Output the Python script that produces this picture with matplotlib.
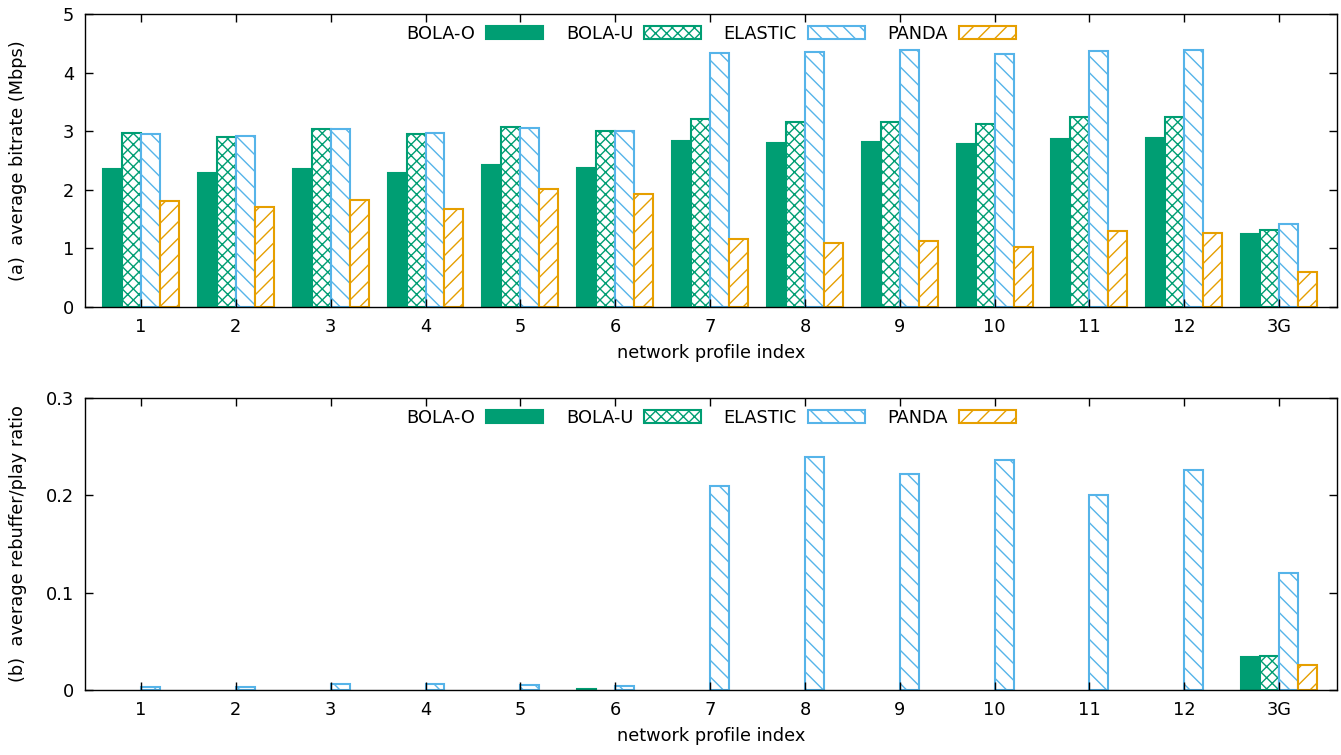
import numpy as np
import matplotlib.pyplot as plt

plt.rcParams['font.family'] = 'DejaVu Sans'
plt.rcParams['hatch.linewidth'] = 1.0

# datos
perfiles = ['1', '2', '3', '4', '5', '6', '7', '8', '9', '10', '11', '12', '3G']
metodos = ['BOLA-O', 'BOLA-U', 'ELASTIC', 'PANDA']

bitrate_bola_o = [2.35, 2.28, 2.36, 2.29, 2.43, 2.37, 2.83, 2.80, 2.81, 2.78, 2.86, 2.88, 1.25]
bitrate_bola_u = [2.97, 2.90, 3.03, 2.95, 3.07, 3.00, 3.20, 3.16, 3.16, 3.12, 3.25, 3.25, 1.32]
bitrate_elastic = [2.96, 2.91, 3.03, 2.97, 3.06, 3.00, 4.33, 4.35, 4.39, 4.31, 4.37, 4.39, 1.41]
bitrate_panda = [1.80, 1.71, 1.82, 1.68, 2.01, 1.92, 1.16, 1.10, 1.12, 1.02, 1.30, 1.27, 0.60]

rebuf_bola_o = [0, 0, 0, 0, 0, 0.001, 0, 0, 0, 0, 0, 0, 0.0335]
rebuf_bola_u = [0, 0, 0, 0, 0, 0, 0, 0, 0, 0, 0, 0, 0.035]
rebuf_elastic = [0.003, 0.003, 0.006, 0.006, 0.005, 0.004, 0.210, 0.239, 0.222, 0.236, 0.200, 0.226, 0.120]
rebuf_panda = [0, 0, 0, 0, 0, 0, 0, 0, 0, 0, 0, 0, 0.026]

verde = '#009E73'
azul = '#56B4E9'
naranja = '#E69F00'

estilos = [
    dict(facecolor=verde, edgecolor=verde, hatch=None),
    dict(facecolor='white', edgecolor=verde, hatch='xxx'),
    dict(facecolor='white', edgecolor=azul, hatch='\\\\'),
    dict(facecolor='white', edgecolor=naranja, hatch='//'),
]

x = np.arange(1, len(perfiles) + 1)
ancho = 0.2
offsets = [-0.3, -0.1, 0.1, 0.3]
fs = 12.8

fig = plt.figure(figsize=(13.41, 7.55), dpi=100)
ax1 = fig.add_axes([0.0634, 0.5934, 0.9336, 0.3881])
ax2 = fig.add_axes([0.0634, 0.0861, 0.9336, 0.3867])


def graficar(ax, series, ylim, yticks, ylabel):
    for i in range(4):
        v = np.array(series[i])
        ok = v > 0  # las barras en cero no se dibujan
        ax.bar(x[ok] + offsets[i], v[ok], ancho, label=metodos[i],
               linewidth=1.5, **estilos[i])
    ax.set_xlim(0.41, 13.61)
    ax.set_ylim(*ylim)
    ax.set_xticks(x)
    ax.set_xticklabels(perfiles)
    ax.set_yticks(yticks)
    ax.set_ylabel(ylabel, fontsize=fs)
    ax.yaxis.set_label_coords(-0.0465, 0.5)
    ax.set_xlabel('network profile index', fontsize=fs, labelpad=6)
    ax.tick_params(direction='in', top=True, right=True, labelsize=fs,
                   length=6, width=1, pad=8)
    for s in ax.spines.values():
        s.set_linewidth(1)
    ax.legend(loc='upper center', ncol=4, frameon=False, markerfirst=False,
              fontsize=fs, handlelength=3.2, handleheight=0.75,
              handletextpad=0.6, columnspacing=1.3, borderaxespad=0.2)


graficar(ax1, [bitrate_bola_o, bitrate_bola_u, bitrate_elastic, bitrate_panda],
         (0, 5), [0, 1, 2, 3, 4, 5], '(a)  average bitrate (Mbps)')
graficar(ax2, [rebuf_bola_o, rebuf_bola_u, rebuf_elastic, rebuf_panda],
         (0, 0.3), [0, 0.1, 0.2, 0.3], '(b)  average rebuffer/play ratio')
ax2.set_yticklabels(['0', '0.1', '0.2', '0.3'])

fig.savefig('out.png', dpi=100)
